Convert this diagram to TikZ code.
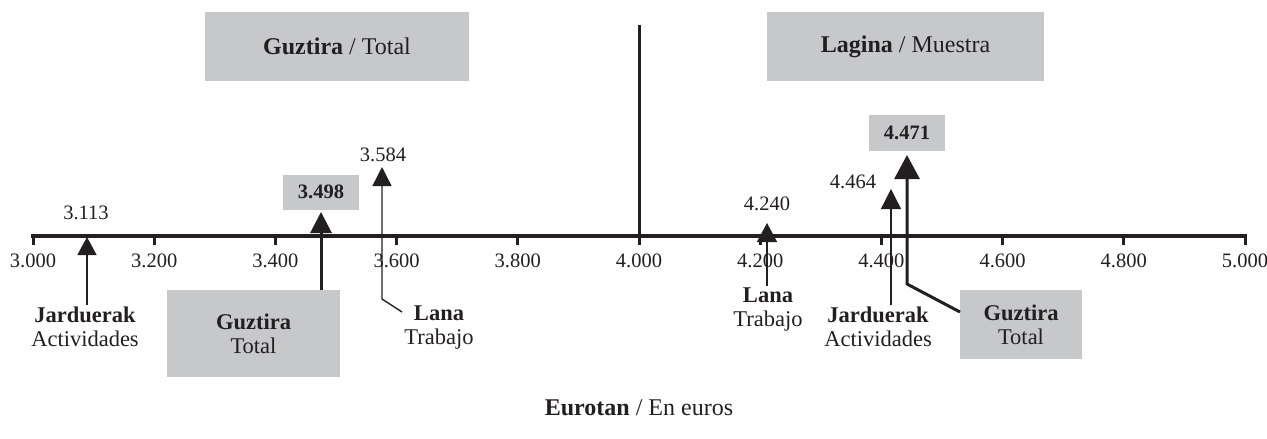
\documentclass[tikz,border=0pt]{standalone}
\usepackage{fontspec}
\setmainfont{Liberation Serif}
\usetikzlibrary{arrows.meta}
\definecolor{ink}{RGB}{35,31,32}
\definecolor{boxgray}{RGB}{199,200,202}
\tikzset{
    txt/.style={text=ink,font=\fontsize{20.5}{24}\selectfont,inner sep=2pt},
    lbl/.style={txt,font=\fontsize{22.5}{24}\selectfont,align=center},
    head/.style={txt,font=\fontsize{24}{28}\selectfont},
    graybox/.style={fill=boxgray,align=center,inner sep=0pt},
    marker_thin/.style={draw=ink,line width=1.4pt},
    marker_thick/.style={draw=ink,line width=3pt},
}

\begin{document}
\begin{tikzpicture}[x=1pt,y=-1pt]
  \useasboundingbox (0,0) rectangle (1267,439);
  % Headings
  \node[head,graybox,minimum width=264,minimum height=69] (head_total) at (337,46.5) {\textbf{Guztira} / Total};
  \node[head,graybox,minimum width=277,minimum height=69] (head_sample) at (905.5,46.5) {\textbf{Lagina} / Muestra};
  \node[head] (caption) at (639,408) {\textbf{Eurotan} / En euros};
  % Axis with ticks
  \draw[ink,line width=4pt] (31,236) -- (1247,236);
  \foreach \v [count=\i from 0] in {3.000,3.200,3.400,3.600,3.800,4.000,4.200,4.400,4.600,4.800,5.000}
  {
    \draw[ink,line width=3pt] ({33+\i*121.2},236) -- ({33+\i*121.2},245);
    \node[txt] (tick\i) at ({33+\i*121.2},261) {\v};
  }
  \draw[ink,line width=3pt] (639,25) -- (639,243);
  % Marker tips
  \coordinate (m3113) at (87,237);
  \coordinate (m3498) at (321,212);
  \coordinate (m3584) at (382,167);
  \coordinate (m4240) at (767,223);
  \coordinate (m4464) at (891,189);
  \coordinate (m4471) at (907,155);
  % Values
  \node[txt] (v3113) at (86,213) {3.113};
  \node[txt,graybox,minimum width=76,minimum height=35] (v3498) at (321,192) {\textbf{3.498}};
  \node[txt] (v3584) at (383,155) {3.584};
  \node[txt] (v4240) at (767,204) {4.240};
  \node[txt] (v4464) at (853,182) {4.464};
  \node[txt,graybox,minimum width=76,minimum height=36] (v4471) at (907,133) {\textbf{4.471}};
  % Labels under the axis
  \node[lbl] (jard1) at (85,327) {\textbf{Jarduerak}\\Actividades};
  \node[lbl,graybox,minimum width=173,minimum height=87] (tot1) at (253.5,333.5) {\textbf{Guztira}\\Total};
  \node[lbl] (lana1) at (439,328) {\textbf{Lana}\\Trabajo};
  \node[lbl] (lana2) at (768,310) {\textbf{Lana}\\Trabajo};
  \node[lbl] (jard2) at (878,327) {\textbf{Jarduerak}\\Actividades};
  \node[lbl,graybox,minimum width=122,minimum height=69] (tot2) at (1021,324.5) {\textbf{Guztira}\\Total};
  % Bends of the leaders
  \coordinate (e3584) at (402,312);
  \coordinate (k3584) at (382,299);
  \coordinate (e4471) at (960,312);
  \coordinate (k4471) at (907,284);
  % Connectors
  \draw[marker_thin,-{Triangle[length=18pt,width=19pt]}] (jard1.north -| m3113) -- (m3113);
  \draw[marker_thick,-{Triangle[length=21pt,width=21pt]}] (tot1.north -| m3498) -- (m3498);
  \draw[marker_thin,-{Triangle[length=19pt,width=19pt]}] (e3584) -- (k3584) -- (m3584);
  \draw[marker_thin,-{Triangle[length=19pt,width=20pt]}] (lana2.north -| m4240) -- (m4240);
  \draw[marker_thin,-{Triangle[length=20pt,width=20pt]}] (jard2.north -| m4464) -- (m4464);
  \draw[marker_thick,-{Triangle[length=24pt,width=25pt]}] (e4471) -- (k4471) -- (m4471);
\end{tikzpicture}
\end{document}
